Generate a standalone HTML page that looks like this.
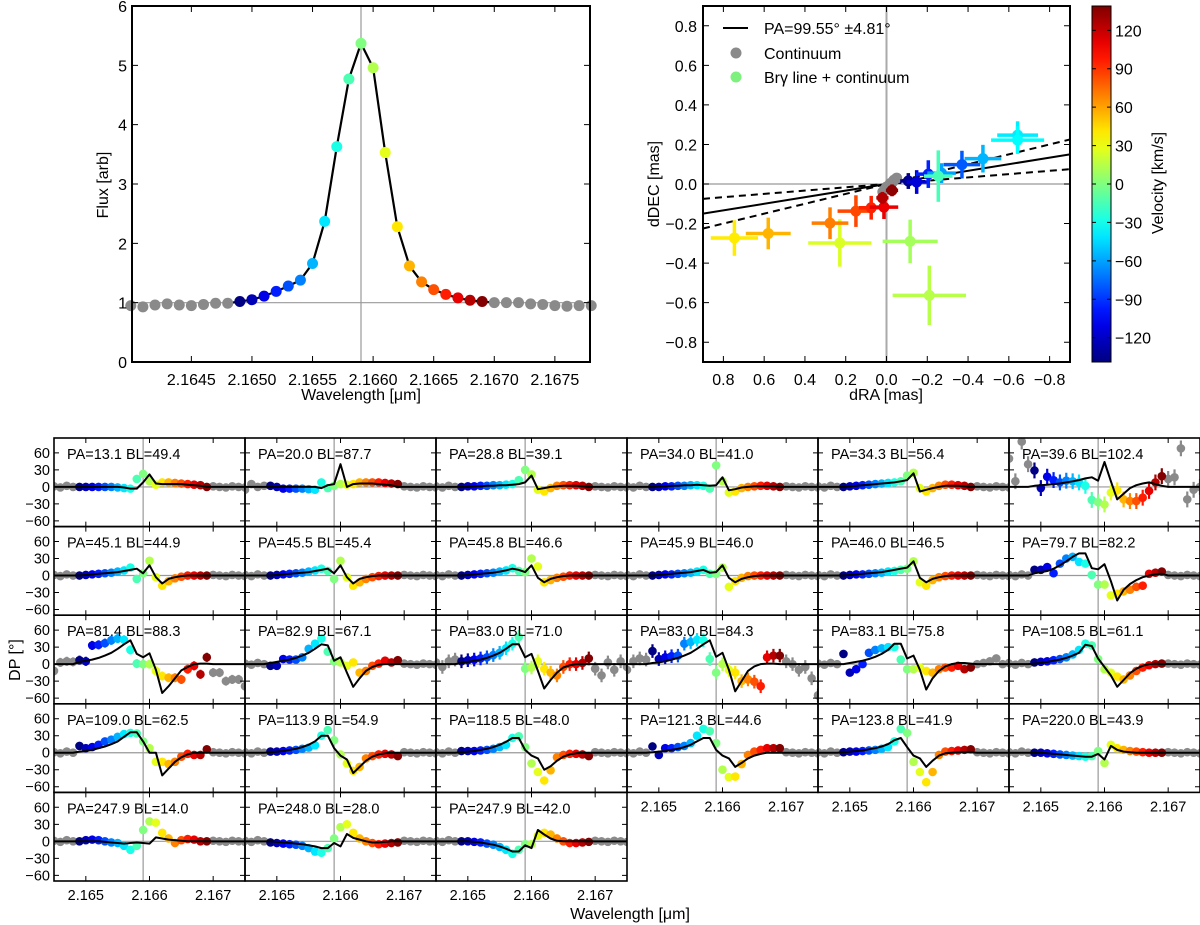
<!DOCTYPE html>
<html><head><meta charset="utf-8"><style>
html,body{margin:0;padding:0;background:#fff;}
svg{display:block;font-family:"Liberation Sans",sans-serif;}
</style></head><body>
<svg id="fig" width="1200" height="925" viewBox="0 0 1200 925" xmlns="http://www.w3.org/2000/svg">
<defs id="defs"></defs>
</svg>
<script>
// ---------- Flux panel data ----------
const fluxWave = [2.1640,2.1641,2.1642,2.1643,2.1644,2.1645,2.1646,2.1647,2.1648,2.1649,2.1650,2.1651,2.1652,2.1653,2.1654,2.1655,2.1656,2.1657,2.1658,2.1659,2.1660,2.1661,2.1662,2.1663,2.1664,2.1665,2.1666,2.1667,2.1668,2.1669,2.1670,2.1671,2.1672,2.1673,2.1674,2.1675,2.1676,2.1677,2.1678];
const fluxVal = [0.95,0.93,0.96,0.98,0.96,0.95,0.97,0.99,0.99,1.02,1.05,1.11,1.19,1.28,1.38,1.66,2.37,3.63,4.77,5.37,4.96,3.53,2.28,1.62,1.35,1.22,1.14,1.08,1.04,1.02,1.0,1.0,1.0,0.98,0.97,0.95,0.94,0.95,0.95];
const fluxYTicks = [0,1,2,3,4,5,6];
const fluxXTicks = ["2.1645","2.1650","2.1655","2.1660","2.1665","2.1670","2.1675"];
// ---------- Photocentre panel data ----------
const phX = [0.746,0.58,0.229,-0.116,-0.21,0.277,0.15,0.075,0.0125,0.02,-0.027,-0.107,-0.148,-0.205,-0.27,-0.254,-0.37,-0.473,-0.643,-0.643];
const phY = [-0.273,-0.25,-0.298,-0.29,-0.563,-0.198,-0.137,-0.12,-0.117,-0.07,-0.032,0.015,0.01,0.05,0.055,0.04,0.098,0.128,0.247,0.222];
const phV = [40,55,25,10,15,70,85,95,110,125,135,-135,-115,-95,-60,-15,-80,-55,-40,-35];
const phXErr = [0.116,0.11,0.155,0.135,0.18,0.09,0.09,0.06,0.07,0.03,0.03,0.04,0.05,0.06,0.07,0.07,0.09,0.09,0.1,0.13];
const phYErr = [0.09,0.08,0.12,0.11,0.15,0.08,0.08,0.06,0.06,0.03,0.03,0.04,0.06,0.07,0.05,0.13,0.07,0.07,0.07,0.07];
const contX = [0.018,0.0,-0.018,-0.036,-0.05,0.01,-0.03];
const contY = [-0.04,-0.015,0.002,0.019,0.03,-0.03,0.01];
const paSlopes = [-0.1667,-0.25,-0.0833];
const phTicks = [0.8,0.6,0.4,0.2,0.0,-0.2,-0.4,-0.6,-0.8];
const cbTicks = [120,90,60,30,0,-30,-60,-90,-120];
// ---------- DP panels data ----------
const titles = ["PA=13.1 BL=49.4","PA=20.0 BL=87.7","PA=28.8 BL=39.1","PA=34.0 BL=41.0","PA=34.3 BL=56.4","PA=39.6 BL=102.4",
"PA=45.1 BL=44.9","PA=45.5 BL=45.4","PA=45.8 BL=46.6","PA=45.9 BL=46.0","PA=46.0 BL=46.5","PA=79.7 BL=82.2",
"PA=81.4 BL=88.3","PA=82.9 BL=67.1","PA=83.0 BL=71.0","PA=83.0 BL=84.3","PA=83.1 BL=75.8","PA=108.5 BL=61.1",
"PA=109.0 BL=62.5","PA=113.9 BL=54.9","PA=118.5 BL=48.0","PA=121.3 BL=44.6","PA=123.8 BL=41.9","PA=220.0 BL=43.9",
"PA=247.9 BL=14.0","PA=248.0 BL=28.0","PA=247.9 BL=42.0"];
const dp01=[0,0,0,0,0,0,-1,-2,-3,14,23,10,4,8,8,7,6,5,4,3,0];
const md01=[0,0,0,0,0,0,0,-1,-3,-3,8,22,6,5,5,5,5,4,3,2,0];
const dp02=[2,0,-3,-3,-3,-3,-4,-5,8,-2,2,5,4,5,8,8,8,8,7,6,5];
const md02=[0,0,0,0,0,0,0,0,-2,3,5,40,0,5,6,6,6,5,4,3,0];
const dp03=[0,1,1,2,2,3,3,4,5,12,30,22,-5,-8,-2,2,3,3,3,2,0];
const md03=[0,0,1,1,2,2,3,3,4,5,8,20,-4,-2,0,1,2,2,2,1,0];
const dp04=[0,0,1,1,2,2,3,3,2,-3,38,10,-10,-8,-2,0,1,2,2,1,0];
const md04=[0,1,1,2,2,3,3,4,3,2,3,17,-6,-4,-1,0,1,1,1,1,0];
const dp05=[0,1,2,3,4,5,6,7,8,10,20,25,-2,-8,-2,2,4,4,3,2,0];
const md05=[0,1,2,3,4,5,6,7,8,10,12,24,-8,-5,-2,0,2,2,2,1,0];
const dp06=[29,-2,18,12,8,11,10,8,2,-23,-27,-31,-10,-6,-22,-25,-25,-19,-7,8,19];
const md06=[2,3,4,5,6,8,10,12,15,17,11,44,10,-22,-12,-2,3,6,8,5,2];
const dp07=[0,1,2,3,4,5,7,9,14,-6,4,26,-3,-18,-10,-5,-2,0,0,0,0];
const md07=[0,1,2,3,4,5,6,8,10,12,4,18,-3,-14,-6,-3,-1,0,0,0,0];
const dp08=[0,1,2,3,4,5,7,9,12,8,-6,26,-3,-18,-12,-6,-3,-1,0,0,0];
const md08=[0,1,2,3,4,5,6,8,10,12,4,18,-3,-14,-6,-3,-1,0,0,0,0];
const dp09=[0,1,2,3,4,5,7,9,13,8,6,30,16,-12,-8,-4,-2,0,0,0,0];
const md09=[0,1,2,3,4,5,7,9,12,10,6,18,-4,-12,-6,-3,-1,0,0,0,0];
const dp10=[0,1,2,2,3,4,5,7,10,3,3,14,-20,-10,-4,-1,0,0,0,0,0];
const md10=[0,1,2,3,4,5,6,8,10,5,6,18,-4,-12,-6,-3,-1,0,0,0,0];
const dp11=[0,1,2,2,3,4,5,7,8,10,12,25,-12,-18,-8,-3,-1,0,0,0,0];
const md11=[0,1,2,3,4,5,6,8,10,12,14,25,-4,-12,-6,-3,-1,0,0,0,0];
const dp12=[10,10,15,4,21,30,33,24,21,1,-16,-16,-35,-32,-28,-25,-20,-18,3,5,7];
const md12=[4,6,8,12,18,25,33,39,39,13,11,20,-10,-44,-25,-15,-8,-3,0,2,3];
const dp13=[7,5,33,34,37,42,45,43,25,1,0,0,-12,-21,-24,-24,-27,-9,-3,-18,12];
const md13=[4,6,8,11,15,20,27,35,42,18,12,19,-10,-51,-39,-25,-11,-5,0,1,1];
const dp14=[-3,-3,9,8,8,12,27,36,45,22,5,3,-3,3,-15,-12,-3,1,6,3,7];
const md14=[2,4,6,8,11,15,20,27,35,33,6,12,-15,-40,-25,-12,-5,-1,0,0,0];
const dp15=[5,7,8,10,12,16,20,28,36,48,-8,-6,5,-8,-15,-20,-5,0,0,2,10];
const md15=[2,4,6,8,11,15,20,27,35,35,12,18,-12,-43,-28,-15,-6,-2,0,0,0];
const dp16=[23,9,12,14,15,36,39,43,42,9,-15,0,-10,-15,-30,-27,-31,-39,12,15,15];
const md16=[2,3,5,8,11,15,20,27,35,42,13,20,-10,-48,-30,-12,-4,0,1,1,0];
const dp17=[18,-15,-9,0,20,25,28,30,30,8,-9,-9,-6,-12,-15,-9,-6,-6,-3,-9,-6];
const md17=[0,2,4,6,9,13,18,25,36,36,10,15,-10,-45,-25,-12,-4,0,2,2,1];
const dp18=[3,4,5,7,9,12,17,25,36,33,9,-9,-15,-22,-27,-20,-12,-6,-2,0,1];
const md18=[1,2,4,6,8,11,15,20,34,32,10,-5,-20,-40,-28,-16,-8,-3,0,1,0];
const dp19=[12,8,10,14,20,23,28,33,35,34,20,8,-16,-16,-20,-16,-7,-2,-4,-4,6];
const md19=[2,3,5,8,11,15,20,28,36,36,20,0,0,-40,-28,-16,-8,-3,0,0,0];
const dp20=[2,2,3,4,5,7,9,13,30,40,22,-3,-19,-32,-25,-10,-6,-3,-2,-3,-6];
const md20=[1,2,3,5,7,10,14,20,30,30,8,-5,-12,-36,-25,-14,-7,-3,-1,0,0];
const dp21=[3,3,3,4,5,7,10,14,26,29,10,-19,-34,-49,-31,-8,-4,-2,-2,-3,-6];
const md21=[1,2,3,5,7,10,14,19,26,26,5,-5,-10,-30,-24,-14,-7,-3,-1,0,0];
const dp22=[11,-4,8,8,10,12,17,30,42,38,17,-30,-43,-42,-20,-4,2,5,8,8,8];
const md22=[1,2,3,5,7,10,14,20,26,26,5,-5,-10,-25,-18,-10,-5,-2,0,0,0];
const dp23=[1,2,2,3,4,5,7,10,20,42,35,-16,-34,-52,-34,-4,2,3,4,5,6];
const md23=[1,2,3,4,6,8,11,15,22,26,10,-5,-10,-25,-14,-5,-1,0,1,1,1];
const dp24=[0,0,-1,-2,-3,-4,-5,-6,-7,-6,3,-18,14,8,5,3,2,1,0,0,0];
const md24=[0,0,-1,-2,-3,-4,-5,-6,-7,-7,-2,-12,12,5,2,1,0,0,0,0,0];
const dp25=[0,2,3,2,0,-2,-3,-8,-15,-8,20,35,33,15,5,-3,2,4,3,0,0];
const md25=[0,0,0,0,-1,-2,-3,-4,-3,-2,-3,-4,7,5,3,2,1,0,0,0,0];
const dp26=[-2,-3,-4,-5,-6,-8,-12,-18,-20,-12,5,25,30,15,5,0,-3,-5,-4,-3,-2];
const md26=[0,-1,-2,-3,-4,-5,-7,-9,-12,-12,-3,-9,13,6,3,0,-2,-2,-1,0,0];
const dp27=[0,0,-1,-2,-4,-6,-10,-15,-22,-15,-5,-5,10,15,12,5,0,-3,-3,-2,-1];
const md27=[0,0,-1,-2,-4,-6,-9,-13,-18,-18,-7,-12,20,12,5,1,0,0,0,0,0];
const dpSets=[dp01,dp02,dp03,dp04,dp05,dp06,dp07,dp08,dp09,dp10,dp11,dp12,dp13,dp14,dp15,dp16,dp17,dp18,dp19,dp20,dp21,dp22,dp23,dp24,dp25,dp26,dp27];
const mdSets=[md01,md02,md03,md04,md05,md06,md07,md08,md09,md10,md11,md12,md13,md14,md15,md16,md17,md18,md19,md20,md21,md22,md23,md24,md25,md26,md27];
const grayLeftDefault=[1,-1,2,0];
const grayRightDefault=[1,0,-1,1,0,-1];
const grayL02=[-5,5,0,2];
const grayL06=[50,10,80,40];
const grayR06=[14,17,68,-22,-5,0];
const grayL13=[-12,3,5,4];
const grayR13=[-15,-15,-30,-27,-27,-39];
const grayL15=[3,-5,5,8];
const grayR15=[-8,-20,3,-10,5,-5];
const grayL16=[-10,5,10,8];
const grayR16=[5,0,-10,-5,-25,-55];
const grayR17=[0,2,5,10,0,2];
const panelErr=[0,0,0,0,0,14,0,0,0,0,0,3,8,2,12,12,3,0,2,0,0,2,0,0,0,0,0];
const dpYTicks=[60,30,0,-30,-60];
const dpXTicks=[2.165,2.166,2.167];

// ---------- helpers ----------
const NS='http://www.w3.org/2000/svg';
const svg=document.getElementById('fig');
const defs=document.getElementById('defs');
function mk(tag,attrs,parent){const e=document.createElementNS(NS,tag);for(const k in attrs)e.setAttribute(k,attrs[k]);(parent||svg).appendChild(e);return e;}
function lin(d0,d1,p0,p1){return v=>p0+(v-d0)*(p1-p0)/(d1-d0);}
function jet(v){const t=(v+139)/278;const c=x=>Math.round(255*Math.max(0,Math.min(1,x)));return 'rgb('+c(1.5-Math.abs(4*t-3))+','+c(1.5-Math.abs(4*t-2))+','+c(1.5-Math.abs(4*t-1))+')';}
function txt(x,y,s,size,anchor,parent,rot){const e=mk('text',{x:x,y:y,'font-size':size,'text-anchor':anchor||'middle',fill:'#000'},parent);if(rot)e.setAttribute('transform','rotate(-90 '+x+' '+y+')');e.textContent=s;return e;}
function fmtMinus(s){return String(s).replace('-','\u2212');}
const GRAY='#8a8a8a';

// ================= Flux panel =================
{
const g=mk('g',{});


const L=132,R=590,T=6,B=362;
const X=lin(2.16401,2.16779,L,R), Y=lin(0,6,B,T);
const h=mk('line',{x1:L,x2:R,y1:Y(1),y2:Y(1),stroke:'#999','stroke-width':1.2},g);


const v=mk('line',{x1:X(2.1659),x2:X(2.1659),y1:T,y2:B,stroke:'#999','stroke-width':1.2},g);


let d='';
for(let i=0;i<fluxWave.length;i++){if(fluxWave[i]<2.16475||fluxWave[i]>2.16705)continue;d+=(d?'L':'M')+X(fluxWave[i]).toFixed(1)+','+Y(fluxVal[i]).toFixed(1);}
const pl=mk('path',{d:d,fill:'none',stroke:'#000','stroke-width':2.2,'stroke-linejoin':'round'},g);


for(let i=0;i<fluxWave.length;i++){
  const w=fluxWave[i];
  const col=(w>2.16485&&w<2.16695)?jet(Math.round((w-2.1659)*10000)*13.8):GRAY;
  const c=mk('circle',{cx:X(w),cy:Y(fluxVal[i]),r:5.5,fill:col},g);
  
  
}
const box=mk('rect',{x:L,y:T,width:R-L,height:B-T,fill:'none',stroke:'#000','stroke-width':2},g);


fluxXTicks.forEach(s=>{const x=X(parseFloat(s));
  mk('path',{d:'M'+x+','+B+'v-6M'+x+','+T+'v6',stroke:'#000','stroke-width':1},g);
  const t=txt(x,385,s,16,'middle',g);
  
  });
fluxYTicks.forEach(vv=>{const y=Y(vv);
  mk('path',{d:'M'+L+','+y+'h6M'+R+','+y+'h-6',stroke:'#000','stroke-width':1},g);
  const t=txt(127,y+6,String(vv),16,'end',g);
  
  });
const xl=txt(361,400,'Wavelength [\u03bcm]',16,'middle',g);


const yl=txt(108,185,'Flux [arb]',16,'middle',g,true);


}

// ================= Photocentre panel =================
{
const g=mk('g',{});


const L=703,R=1070,T=6,B=362;
const X=lin(0.9,-0.9,L,R), Y=lin(-0.9,0.9,B,T);
const cp=mk('clipPath',{id:'phclip'},defs);
mk('rect',{x:L,y:T,width:R-L,height:B-T},cp);
const inner=mk('g',{'clip-path':'url(#phclip)'},g);
const h=mk('line',{x1:L,x2:R,y1:Y(0),y2:Y(0),stroke:'#999','stroke-width':1.2},inner);


const v=mk('line',{x1:X(0),x2:X(0),y1:T,y2:B,stroke:'#aaa','stroke-width':2},inner);


paSlopes.forEach((s,k)=>{
  const l=mk('line',{x1:X(0.9),y1:Y(0.9*s),x2:X(-0.9),y2:Y(-0.9*s),stroke:'#000','stroke-width':2,'stroke-dasharray':k?'7,5':'none'},inner);
  
  });
for(let i=0;i<contX.length;i++){
  const c=mk('circle',{cx:X(contX[i]),cy:Y(contY[i]),r:5.5,fill:GRAY},inner);
  
  }
for(let i=0;i<phX.length;i++){
  const col=jet(phV[i]);
  const eg=mk('g',{},inner);
  
  
  mk('line',{x1:X(phX[i]-phXErr[i]),x2:X(phX[i]+phXErr[i]),y1:Y(phY[i]),y2:Y(phY[i]),stroke:col,'stroke-width':3.5},eg);
  mk('line',{x1:X(phX[i]),x2:X(phX[i]),y1:Y(phY[i]-phYErr[i]),y2:Y(phY[i]+phYErr[i]),stroke:col,'stroke-width':3.5},eg);
  mk('circle',{cx:X(phX[i]),cy:Y(phY[i]),r:5.5,fill:col},eg);}
const box=mk('rect',{x:L,y:T,width:R-L,height:B-T,fill:'none',stroke:'#000','stroke-width':2},g);


phTicks.forEach(vv=>{const x=X(vv),y=Y(vv);
  mk('path',{d:'M'+x+','+B+'v-6M'+x+','+T+'v6M'+L+','+y+'h6M'+R+','+y+'h-6',stroke:'#000','stroke-width':1},g);
  const tx=txt(x,385,fmtMinus(vv.toFixed(1)),16,'middle',g);
  
  
  const ty=txt(697,y+6,fmtMinus(vv.toFixed(1)),16,'end',g);
  
  });
const xl=txt(886,400,'dRA [mas]',16,'middle',g);


const yl=txt(659,184,'dDEC [mas]',16,'middle',g,true);


// legend
const lg=mk('g',{},g);


const l1=mk('line',{x1:723,x2:748,y1:28,y2:28,stroke:'#000','stroke-width':2},lg);


const t1=txt(764,34,'PA=99.55\u00b0 \u00b14.81\u00b0',16,'start',lg);


const c2=mk('circle',{cx:736,cy:53,r:5.5,fill:GRAY},lg);


const t2=txt(764,59,'Continuum',16,'start',lg);


const c3=mk('circle',{cx:736,cy:77,r:5.5,fill:'#7ef07e'},lg);


const t3=txt(764,83,'Br\u03b3 line + continuum',16,'start',lg);


}

// ================= Colorbar =================
{
const g=mk('g',{});


const L=1092,R=1111,T=6,B=362;
const Y=lin(-139,139,B,T);
const gr=mk('linearGradient',{id:'jetgrad',x1:0,y1:1,x2:0,y2:0},defs);
for(let k=0;k<=20;k++){mk('stop',{offset:k/20,'stop-color':jet(-139+278*k/20)},gr);}
mk('rect',{x:L,y:T,width:R-L,height:B-T,fill:'url(#jetgrad)',stroke:'#000','stroke-width':1},g);
cbTicks.forEach(vv=>{const y=Y(vv);
  mk('path',{d:'M'+L+','+y+'h4M'+R+','+y+'h-4',stroke:'#000','stroke-width':1},g);
  const t=txt(1115,y+6,fmtMinus(String(vv)),16,'start',g);
  
  });
const yl=txt(1163,183,'Velocity [km/s]',16,'middle',g,true);


}

// ================= DP grid =================
{
const G=mk('g',{});


const W=191,H=88.6,X0=54,Y0=438;
for(let p=0;p<27;p++){
  const c=p%6,r=Math.floor(p/6);
  const L=X0+c*W,T=Y0+r*H,R=L+W,B=T+H;
  const X=lin(2.1645,2.1675,L,R),Y=lin(-70,86.3,B,T);
  const g=mk('g',{},G);
  
  
  const cp=mk('clipPath',{id:'cp'+p},defs);
  mk('rect',{x:L,y:T,width:W,height:H},cp);
  const inner=mk('g',{'clip-path':'url(#cp'+p+')'},g);
  const hz=mk('line',{x1:L,x2:R,y1:Y(0),y2:Y(0),stroke:'#999','stroke-width':1.2},inner);
  
  
  const vz=mk('line',{x1:X(2.1659),x2:X(2.1659),y1:T,y2:B,stroke:'#999','stroke-width':1.2},inner);
  
  
  const gl=p===1?grayL02:p===5?grayL06:p===12?grayL13:p===14?grayL15:p===15?grayL16:grayLeftDefault;
  const gr=p===5?grayR06:p===12?grayR13:p===14?grayR15:p===15?grayR16:p===16?grayR17:grayRightDefault;
  const e=panelErr[p];
  const pt=(w,v,col)=>{
    if(e>0){const eb=mk('line',{x1:X(w),x2:X(w),y1:Y(v-e),y2:Y(v+e),stroke:col,'stroke-width':2.2},inner);
      
      }
    const ci=mk('circle',{cx:X(w),cy:Y(v),r:4.3,fill:col},inner);
    
    };
  gl.forEach((v,k)=>pt(2.1645+0.0001*k,v,GRAY));
  gr.forEach((v,k)=>pt(2.1670+0.0001*k,v,GRAY));
  dpSets[p].forEach((v,k)=>pt(2.1649+0.0001*k,v,jet((k-10)*13.8)));
  let d='M'+X(2.1645)+','+Y(0)+'L'+X(2.1648)+','+Y(0);
  mdSets[p].forEach((v,k)=>{d+='L'+X(2.1649+0.0001*k).toFixed(1)+','+Y(v).toFixed(1);});
  d+='L'+X(2.1670)+','+Y(0)+'L'+X(2.1675)+','+Y(0);
  const ml=mk('path',{d:d,fill:'none',stroke:'#000','stroke-width':2,'stroke-linejoin':'round'},inner);
  
  
  const bx=mk('rect',{x:L,y:T,width:W,height:H,fill:'none',stroke:'#000','stroke-width':1.6},g);
  
  
  let tk='';
  dpXTicks.forEach(w=>{tk+='M'+X(w)+','+B+'v-5M'+X(w)+','+T+'v5';});
  dpYTicks.forEach(v=>{tk+='M'+L+','+Y(v)+'h5M'+R+','+Y(v)+'h-5';});
  mk('path',{d:tk,stroke:'#000','stroke-width':1},g);
  const tt=txt(L+13,T+21,titles[p],14.5,'start',g);
  
  
  if(c===0){dpYTicks.forEach(v=>{const t=txt(50,Y(v)+5,fmtMinus(String(v)),14.5,'end',g);
    
    });}
  const lastRow=(r===4)||(r===3&&c>=3);
  if(lastRow){dpXTicks.forEach(w=>{const t=txt(X(w),B+19,w.toFixed(3),14.5,'middle',g);
    
    });}
}
const xl=txt(630,919,'Wavelength [\u03bcm]',16,'middle',G);


const yl=txt(20,660,'DP [\u00b0]',16,'middle',G,true);


}
</script>
</body></html>
